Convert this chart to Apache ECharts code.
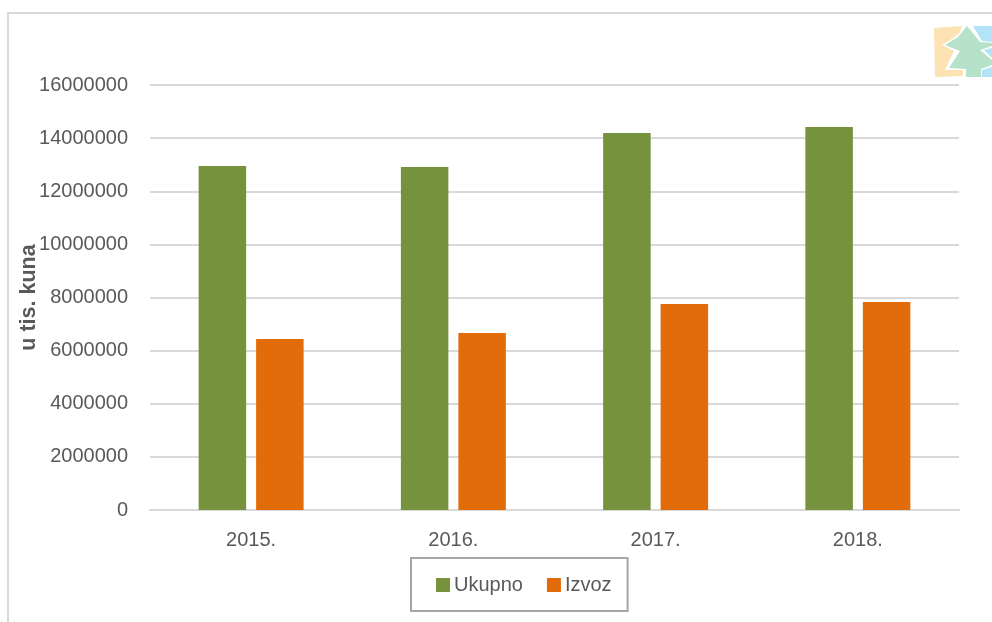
<!DOCTYPE html>
<html>
<head>
<meta charset="utf-8">
<style>html,body{margin:0;padding:0;background:#fff}#main{width:992px;height:622px}</style>
<script src="https://cdn.jsdelivr.net/npm/echarts@6/dist/echarts.min.js"></script>
</head>
<body>
<div id="main"></div>
<script>
const years = ['2015.', '2016.', '2017.', '2018.'];
const ukupno = [12950000, 12910000, 14190000, 14420000];
const izvoz = [6440000, 6660000, 7755000, 7830000];

const textColor = '#595959';
const font = '"Liberation Sans", Arial, sans-serif';

var myChart = echarts.init(document.getElementById('main'));

let option = {
    animation: false,
    backgroundColor: '#fff',
    textStyle: {fontFamily: font},
    grid: {left: 150, right: 33, top: 85, bottom: 112, outerBoundsMode: 'none'},
    legend: {
        left: 411,
        top: 558,
        padding: [17, 16, 16, 25],
        borderColor: '#a6a6a6',
        borderWidth: 2,
        itemWidth: 14,
        itemHeight: 14,
        itemGap: 24,
        icon: 'rect',
        textStyle: {color: textColor, fontSize: 20, fontFamily: font, padding: [0, 0, 0, -1]},
        data: ['Ukupno', 'Izvoz']
    },
    xAxis: {
        type: 'category',
        data: years,
        axisTick: {show: false},
        axisLine: {lineStyle: {color: '#d9d9d9', width: 2}},
        axisLabel: {color: textColor, fontSize: 20, margin: 20, fontFamily: font}
    },
    yAxis: {
        type: 'value',
        min: 0,
        max: 16000000,
        interval: 2000000,
        name: 'u tis. kuna',
        nameLocation: 'middle',
        nameGap: 110,
        nameMoveOverlap: false,
        nameTextStyle: {color: textColor, fontSize: 21.5, fontWeight: 'bold', fontFamily: font},
        axisLine: {show: false},
        axisTick: {show: false},
        axisLabel: {
            color: textColor,
            fontSize: 20,
            margin: 22,
            fontFamily: font,
            formatter: function (value) {
                return String(value);
            }
        },
        splitLine: {lineStyle: {color: '#d9d9d9', width: 2}}
    },
    series: [
        {name: 'Ukupno', type: 'bar', data: ukupno, barWidth: 47.5, barGap: '21%', itemStyle: {color: '#76923c'}},
        {name: 'Izvoz', type: 'bar', data: izvoz, barWidth: 47.5, itemStyle: {color: '#e36c0a'}}
    ],
    graphic: [
        // frame round the picture
        {type: 'polyline', shape: {points: [[8, 622], [8, 13], [992, 13]]}, style: {stroke: '#d9d9d9', lineWidth: 2, fill: null}},
        // logo in the top right corner
        {type: 'polygon', shape: {points: [[934, 28], [962, 26], [960, 32], [955, 37], [942, 45], [954, 51], [945, 70], [963, 70], [963, 76], [935, 77]]}, style: {fill: '#fde3b4'}},
        {type: 'polygon', shape: {points: [[973, 26], [992, 26], [992, 42], [982, 41]]}, style: {fill: '#b3e3f7'}},
        {type: 'polygon', shape: {points: [[992, 48], [984, 50], [992, 58]]}, style: {fill: '#b3e3f7'}},
        {type: 'polygon', shape: {points: [[992, 67], [982, 70], [982, 77], [992, 77]]}, style: {fill: '#b3e3f7'}},
        {type: 'polygon', shape: {points: [[967, 26], [980, 42], [992, 43], [992, 46], [980, 50], [992, 60], [992, 65], [981, 69], [981, 77], [966, 77], [966, 69], [949, 68], [960, 51], [945, 45], [958, 37]]}, style: {fill: '#b5e2c8'}}
    ]
};

myChart.setOption(option);
</script>
</body>
</html>
